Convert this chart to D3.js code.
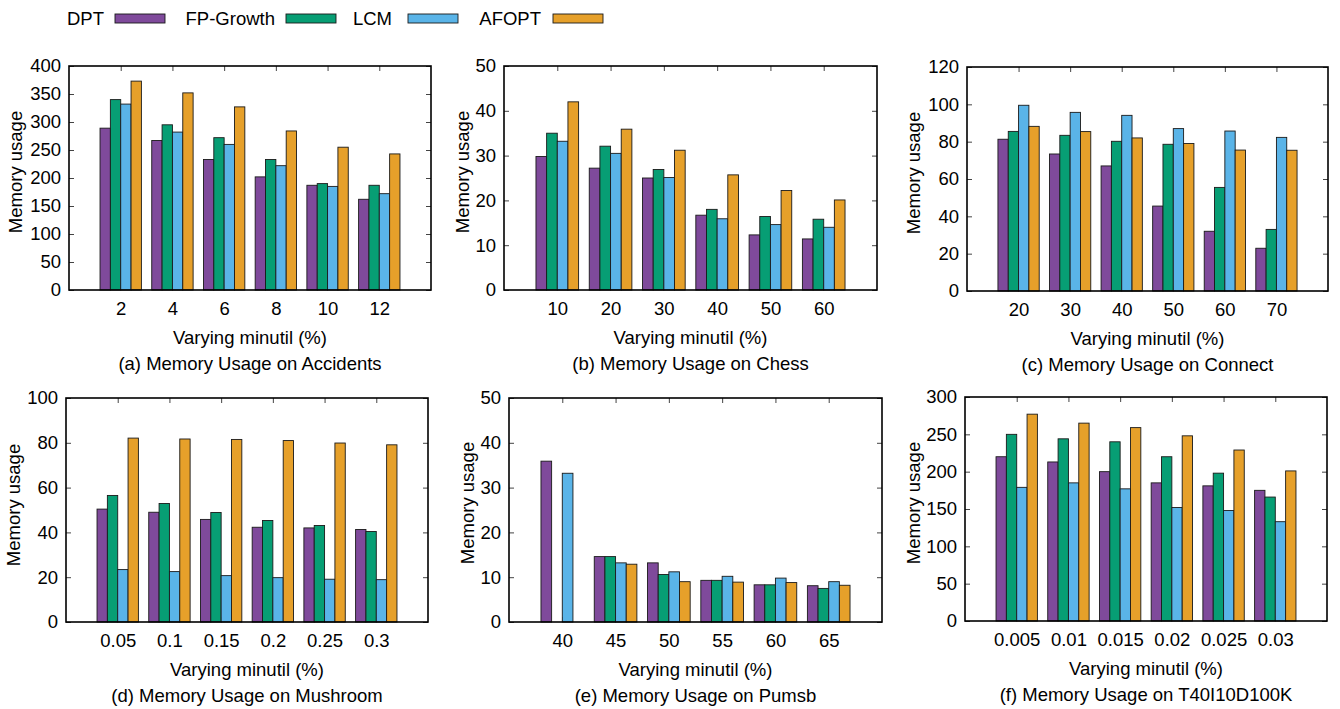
<!DOCTYPE html>
<html><head><meta charset="utf-8">
<script src="https://cdn.jsdelivr.net/npm/d3@7"></script>
<style>
body{margin:0;background:#fff}
text{font-family:"Liberation Sans",Arial,Helvetica,sans-serif;font-size:18.5px;fill:#000}
</style>
</head><body>
<svg id="chart" width="1340" height="709"></svg>
<script>
// ---------------- DATA ----------------
const seriesNames = ["DPT", "FP-Growth", "LCM", "AFOPT"];

const accidentsCats = ["2", "4", "6", "8", "10", "12"];
const accidentsDPT = [289, 267, 233, 202, 187, 162];
const accidentsFP = [340, 295, 272, 233, 190, 187];
const accidentsLCM = [332, 282, 260, 222, 185, 172];
const accidentsAFOPT = [373, 352, 327, 284, 255, 243];
const accidentsTicks = [0, 50, 100, 150, 200, 250, 300, 350, 400];

const chessCats = ["10", "20", "30", "40", "50", "60"];
const chessDPT = [29.8, 27.2, 25.0, 16.7, 12.3, 11.4];
const chessFP = [35.0, 32.1, 26.9, 18.0, 16.4, 15.8];
const chessLCM = [33.2, 30.5, 25.1, 15.9, 14.6, 14.0];
const chessAFOPT = [42.0, 35.9, 31.2, 25.7, 22.2, 20.1];
const chessTicks = [0, 10, 20, 30, 40, 50];

const connectCats = ["20", "30", "40", "50", "60", "70"];
const connectDPT = [81.3, 73.4, 67.0, 45.5, 32.0, 22.9];
const connectFP = [85.5, 83.4, 80.2, 78.6, 55.5, 33.0];
const connectLCM = [99.5, 95.7, 94.1, 87.0, 85.7, 82.3];
const connectAFOPT = [88.2, 85.4, 82.0, 79.0, 75.5, 75.4];
const connectTicks = [0, 20, 40, 60, 80, 100, 120];

const mushroomCats = ["0.05", "0.1", "0.15", "0.2", "0.25", "0.3"];
const mushroomDPT = [50.4, 49.0, 45.8, 42.3, 42.0, 41.3];
const mushroomFP = [56.5, 52.9, 48.9, 45.3, 43.1, 40.4];
const mushroomLCM = [23.4, 22.5, 20.7, 19.8, 19.1, 18.9];
const mushroomAFOPT = [82.1, 81.7, 81.5, 81.0, 79.9, 79.1];
const mushroomTicks = [0, 20, 40, 60, 80, 100];

const pumsbCats = ["40", "45", "50", "55", "60", "65"];
const pumsbDPT = [35.9, 14.6, 13.2, 9.3, 8.3, 8.1];
const pumsbFP = [null, 14.6, 10.6, 9.3, 8.3, 7.5];
const pumsbLCM = [33.2, 13.2, 11.2, 10.2, 9.8, 9.0];
const pumsbAFOPT = [null, 12.9, 9.0, 8.9, 8.8, 8.2];
const pumsbTicks = [0, 10, 20, 30, 40, 50];

const t40Cats = ["0.005", "0.01", "0.015", "0.02", "0.025", "0.03"];
const t40DPT = [220, 213, 200, 185, 181, 175];
const t40FP = [250, 244, 240, 220, 198, 166];
const t40LCM = [179, 185, 177, 152, 148, 133];
const t40AFOPT = [277, 265, 259, 248, 229, 201];
const t40Ticks = [0, 50, 100, 150, 200, 250, 300];

const captions = [
  "(a) Memory Usage on Accidents",
  "(b) Memory Usage on Chess",
  "(c) Memory Usage on Connect",
  "(d) Memory Usage on Mushroom",
  "(e) Memory Usage on Pumsb",
  "(f) Memory Usage on T40I10D100K"
];
const xTitle = "Varying minutil (%)";
const yTitle = "Memory usage";

// ---------------- STYLE / LAYOUT ----------------
const colors = ["#7f4a9b", "#079e74", "#5ab4e8", "#e6a02a"];

const panels = [
  {cats: accidentsCats, vals: [accidentsDPT, accidentsFP, accidentsLCM, accidentsAFOPT], ticks: accidentsTicks,
   left: 69, right: 431, top: 66, bottom: 290, ylx: 22, yly: 172},
  {cats: chessCats, vals: [chessDPT, chessFP, chessLCM, chessAFOPT], ticks: chessTicks,
   left: 504, right: 877, top: 66, bottom: 290, ylx: 469, yly: 172},
  {cats: connectCats, vals: [connectDPT, connectFP, connectLCM, connectAFOPT], ticks: connectTicks,
   left: 967, right: 1328, top: 67, bottom: 291, ylx: 920, yly: 173},
  {cats: mushroomCats, vals: [mushroomDPT, mushroomFP, mushroomLCM, mushroomAFOPT], ticks: mushroomTicks,
   left: 66, right: 428, top: 398, bottom: 622, ylx: 20, yly: 505},
  {cats: pumsbCats, vals: [pumsbDPT, pumsbFP, pumsbLCM, pumsbAFOPT], ticks: pumsbTicks,
   left: 509, right: 882, top: 398, bottom: 622, ylx: 474, yly: 503},
  {cats: t40Cats, vals: [t40DPT, t40FP, t40LCM, t40AFOPT], ticks: t40Ticks,
   left: 965, right: 1327, top: 397, bottom: 621, ylx: 920, yly: 503}
];

const svg = d3.select("#chart");

panels.forEach((p, pi) => {
  const x = d3.scaleLinear().domain([-1, 6]).range([p.left, p.right]);
  const y = d3.scaleLinear().domain([0, d3.max(p.ticks)]).range([p.bottom, p.top]);
  const g = svg.append("g");
  const idx = p.cats.map((c, i) => i);

  // bottom axis (labels)
  const xb = g.append("g").attr("transform", `translate(0,${p.bottom})`)
    .call(d3.axisBottom(x).tickValues(idx).tickFormat(i => p.cats[i]).tickSize(-5).tickPadding(12));
  xb.select(".domain").remove();
  xb.selectAll("line").attr("stroke", "#444");
  xb.selectAll("text").attr("font-size", null).attr("font-family", null);

  // bars
  const bw = 0.2;
  p.vals.forEach((arr, s) => {
    const data = arr.map((v, i) => ({v, i})).filter(d => d.v !== null);
    g.selectAll(null).data(data).enter().append("rect")
      .attr("x", d => x(d.i - 0.4 + bw * s))
      .attr("width", d => x(d.i - 0.4 + bw * (s + 1)) - x(d.i - 0.4 + bw * s))
      .attr("y", d => y(d.v))
      .attr("height", d => y(0) - y(d.v))
      .attr("fill", colors[s])
      .attr("stroke", "#1a1a1a")
      .attr("stroke-width", 0.9);
  });

  // left axis
  const yl = g.append("g").attr("transform", `translate(${p.left},0)`)
    .call(d3.axisLeft(y).tickValues(p.ticks).tickSize(-5).tickPadding(8));
  yl.select(".domain").remove();
  yl.selectAll("line").attr("stroke", "#444");
  yl.selectAll("text").attr("font-size", null).attr("font-family", null);
  // right mirror
  const yr = g.append("g").attr("transform", `translate(${p.right},0)`)
    .call(d3.axisRight(y).tickValues(p.ticks).tickSize(-5).tickFormat(""));
  yr.select(".domain").remove();
  yr.selectAll("line").attr("stroke", "#444");
  // top mirror
  const xt = g.append("g").attr("transform", `translate(0,${p.top})`)
    .call(d3.axisTop(x).tickValues(idx).tickSize(-5).tickFormat(""));
  xt.select(".domain").remove();
  xt.selectAll("line").attr("stroke", "#444");

  // frame
  g.append("rect")
    .attr("x", p.left).attr("y", p.top)
    .attr("width", p.right - p.left).attr("height", p.bottom - p.top)
    .attr("fill", "none").attr("stroke", "#000").attr("stroke-width", 1.6);

  // titles
  const cx = (p.left + p.right) / 2;
  g.append("text").attr("x", cx).attr("y", p.bottom + 54).attr("text-anchor", "middle").text(xTitle);
  g.append("text").attr("x", cx).attr("y", p.bottom + 80).attr("text-anchor", "middle").text(captions[pi]);
  g.append("text").attr("transform", `translate(${p.ylx},${p.yly}) rotate(-90)`)
    .attr("text-anchor", "middle").text(yTitle);
});

// legend
const legendTextEnd = [104, 275, 392, 541];
const legendBoxX = [115, 286, 408, 553];
const lg = svg.append("g");
seriesNames.forEach((name, i) => {
  lg.append("text").attr("x", legendTextEnd[i]).attr("y", 25).attr("text-anchor", "end").text(name);
  lg.append("rect").attr("x", legendBoxX[i]).attr("y", 14).attr("width", 50).attr("height", 9)
    .attr("fill", colors[i]).attr("stroke", "#1a1a1a").attr("stroke-width", 0.9);
});
</script>
</body></html>
